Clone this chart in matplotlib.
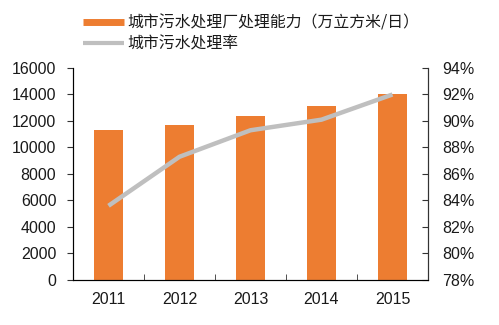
import numpy as np
import matplotlib.pyplot as plt
from matplotlib.lines import Line2D
from matplotlib.ticker import FuncFormatter

plt.rcParams['font.family'] = ['Liberation Sans', 'DejaVu Sans']

years = ['2011', '2012', '2013', '2014', '2015']
capacity = [11300, 11700, 12400, 13100, 14000]   # 万立方米/日
rate = [83.6, 87.3, 89.3, 90.1, 92.0]            # %

bar_color = '#ED7D31'
line_color = '#BFBFBF'
spine_color = '#333333'
text_color = '#1a1a1a'

fig = plt.figure(figsize=(4.99, 3.25), dpi=100)
ax = fig.add_axes([0.1463, 0.1385, 0.7114, 0.6523])
x = np.arange(len(years))
ax.bar(x, capacity, width=0.4, color=bar_color, zorder=2)
ax.set_xlim(-0.5, 4.5)
ax.set_ylim(0, 16000)
ax.set_yticks(np.arange(0, 16001, 2000))
ax.set_xticks(x)
ax.set_xticklabels(years)
ax.set_xticks(np.arange(0.5, 4, 1), minor=True)
ax.tick_params(axis='x', which='major', length=0, labelsize=11.5, pad=9, labelcolor=text_color)
ax.tick_params(axis='x', which='minor', direction='in', length=4, color=spine_color)
ax.tick_params(axis='y', direction='out', length=4, labelsize=11.5, pad=8,
               color=spine_color, labelcolor=text_color)
ax.spines['top'].set_visible(False)
for s in ['left', 'right', 'bottom']:
    ax.spines[s].set_color(spine_color)

ax2 = ax.twinx()
ax2.plot(x, rate, color=line_color, lw=3.2, solid_capstyle='butt', zorder=3)
ax2.set_ylim(78, 94)
ax2.set_yticks(np.arange(78, 94.1, 2))
ax2.yaxis.set_major_formatter(FuncFormatter(lambda v, p: f'{v:.0f}%'))
ax2.tick_params(axis='y', direction='in', length=4, labelsize=11.5, pad=10,
                color=spine_color, labelcolor=text_color)
ax2.spines['top'].set_visible(False)
ax2.spines['right'].set_color(spine_color)

handles = [Line2D([], [], color=bar_color, lw=5, solid_capstyle='butt'),
           Line2D([], [], color=line_color, lw=3, solid_capstyle='butt')]
labels = ['城市污水处理厂处理能力（万立方米/日）', '城市污水处理率']
leg = fig.legend(handles, labels, loc='upper left', bbox_to_anchor=(0.137, 1.0),
                 frameon=False, handlelength=2.6, handletextpad=0.25, labelspacing=0.25,
                 prop={'family': ['Noto Sans CJK SC', 'DejaVu Sans'], 'size': 11.4})
for t in leg.get_texts():
    t.set_color(text_color)

fig.savefig('out.png', dpi=100)
